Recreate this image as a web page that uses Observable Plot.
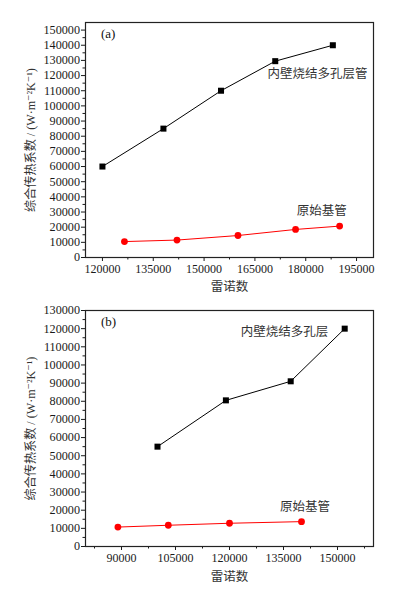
<!DOCTYPE html>
<html><head><meta charset="utf-8">
<script src="https://cdn.jsdelivr.net/npm/d3@7"></script>
<script src="https://cdn.jsdelivr.net/npm/@observablehq/plot@0.6"></script>
<style>
body{margin:0;background:#fff;}
#chart svg{display:block;background:#fff}
</style></head><body><div id="chart"></div>
<script>
// Panel (a)
const reA_porous = [120000, 138000, 155000, 171000, 188000];
const hA_porous  = [60000, 85000, 110000, 129500, 140000];
const reA_base   = [126500, 142000, 160000, 177000, 190000];
const hA_base    = [10500, 11500, 14500, 18500, 20700];
// Panel (b)
const reB_porous = [100000, 119000, 137000, 152000];
const hB_porous  = [55000, 80500, 91000, 120000];
const reB_base   = [89000, 103000, 120000, 140000];
const hB_base    = [10700, 11700, 12800, 13700];

const xTicksA = [120000, 135000, 150000, 165000, 180000, 195000];
const xMinorA = [127500, 142500, 157500, 172500, 187500];
const yTicksA = [0,10000,20000,30000,40000,50000,60000,70000,80000,90000,100000,110000,120000,130000,140000,150000];
const xTicksB = [90000, 105000, 120000, 135000, 150000];
const xMinorB = [82500, 97500, 112500, 127500, 142500, 157500];
const yTicksB = [0,10000,20000,30000,40000,50000,60000,70000,80000,90000,100000,110000,120000,130000];

const seriesNamesA = ["内壁烧结多孔层管", "原始基管"];
const seriesNamesB = ["内壁烧结多孔层", "原始基管"];
const xTitle = "雷诺数";
const yTitle = "综合传热系数 / (W·m⁻²K⁻¹)";

const labelPosA = [{x: 183500, y: 121000}, {x: 184700, y: 30700}];
const labelPosB = [{x: 135300, y: 118000}, {x: 141000, y: 22000}];

const SERIF = "Liberation Serif, DejaVu Serif, Noto Sans CJK SC, serif";
const CJK = "Noto Sans CJK SC, sans-serif";

function minorY(ticks){ const out=[]; for (let i=0;i<ticks.length-1;i++) out.push((ticks[i]+ticks[i+1])/2); return out; }

function panel(o){
  const porous = o.reP.map((x,i)=>({x, y:o.hP[i]}));
  const base = o.reB.map((x,i)=>({x, y:o.hB[i]}));
  const labels = o.names.map((t,i)=>({t, ...o.labelPos[i]}));
  return Plot.plot({
    width: 393, height: o.height,
    marginTop: o.mt, marginBottom: o.mb, marginLeft: 85, marginRight: 20,
    x: {domain: o.xDomain},
    y: {domain: o.yDomain},
    style: {fontFamily: SERIF, fontSize: "12px", color: "#1a1a1a", background: "#fff"},
    marks: [
      Plot.axisY(o.yTicks, {tickSize: 4, tickPadding: 1.5, tickFormat: d => String(d), label: null, fontSize: 12.2, fontFamily: SERIF}),
      Plot.axisY(minorY(o.yTicks), {tickSize: 2.5, tickFormat: () => "", label: null}),
      Plot.axisX(o.xTicks, {tickSize: 4, tickPadding: 3, tickFormat: d => String(d), label: null, fontSize: 12, fontFamily: SERIF}),
      Plot.axisX(o.xMinor, {tickSize: 2.5, tickFormat: () => "", label: null}),
      Plot.frame({stroke: "#222", strokeWidth: 1.2}),
      Plot.line(porous, {x: "x", y: "y", stroke: "#000", strokeWidth: 1}),
      Plot.dot(porous, {x: "x", y: "y", symbol: "square", r: 3.4, fill: "#000"}),
      Plot.line(base, {x: "x", y: "y", stroke: "#ff0000", strokeWidth: 1}),
      Plot.dot(base, {x: "x", y: "y", symbol: "circle", r: 3.4, fill: "#ff0000"}),
      Plot.text(labels, {x: "x", y: "y", text: "t", fontSize: 12.5, fill: "#333", fontFamily: CJK}),
      Plot.text([o.tag], {frameAnchor: "top-left", dx: 15.5, dy: 11.5, textAnchor: "start", lineAnchor: "middle", fontSize: 13, fill: "#111", fontFamily: SERIF}),
      Plot.text([xTitle], {frameAnchor: "bottom", dy: o.xTitleDy, textAnchor: "middle", lineAnchor: "middle", fontSize: 12.5, fill: "#333", fontFamily: CJK}),
      Plot.text([yTitle], {frameAnchor: "left", dx: -54, rotate: -90, textAnchor: "middle", lineAnchor: "middle", fontSize: 13, fill: "#333", fontFamily: SERIF})
    ]
  });
}

// Fit the rotated y title to the length it has in the reference (~144px)
function fitTitle(svg, target){
  svg.querySelectorAll("text").forEach(t => {
    if (t.textContent === yTitle) {
      const len = t.getComputedTextLength();
      if (len > 0) {
        const fs = parseFloat(getComputedStyle(t).fontSize) || 13;
        const nfs = Math.max(9, Math.min(15, fs * target / len));
        t.setAttribute("font-size", nfs);
        t.style.fontSize = nfs + "px";
      }
    }
  });
}

const chart = document.getElementById("chart");
const svgA = panel({
  height: 297, mt: 22, mb: 40,
  xDomain: [115000, 200000], yDomain: [0, 155000],
  xTicks: xTicksA, xMinor: xMinorA, yTicks: yTicksA,
  reP: reA_porous, hP: hA_porous, reB: reA_base, hB: hA_base,
  names: seriesNamesA, labelPos: labelPosA, tag: "(a)", xTitleDy: 29.5
});
const svgB = panel({
  height: 297, mt: 13, mb: 48,
  xDomain: [80000, 160000], yDomain: [0, 130000],
  xTicks: xTicksB, xMinor: xMinorB, yTicks: yTicksB,
  reP: reB_porous, hP: hB_porous, reB: reB_base, hB: hB_base,
  names: seriesNamesB, labelPos: labelPosB, tag: "(b)", xTitleDy: 30
});
chart.append(svgA, svgB);
fitTitle(svgA, 144);
fitTitle(svgB, 144);
</script></body></html>
